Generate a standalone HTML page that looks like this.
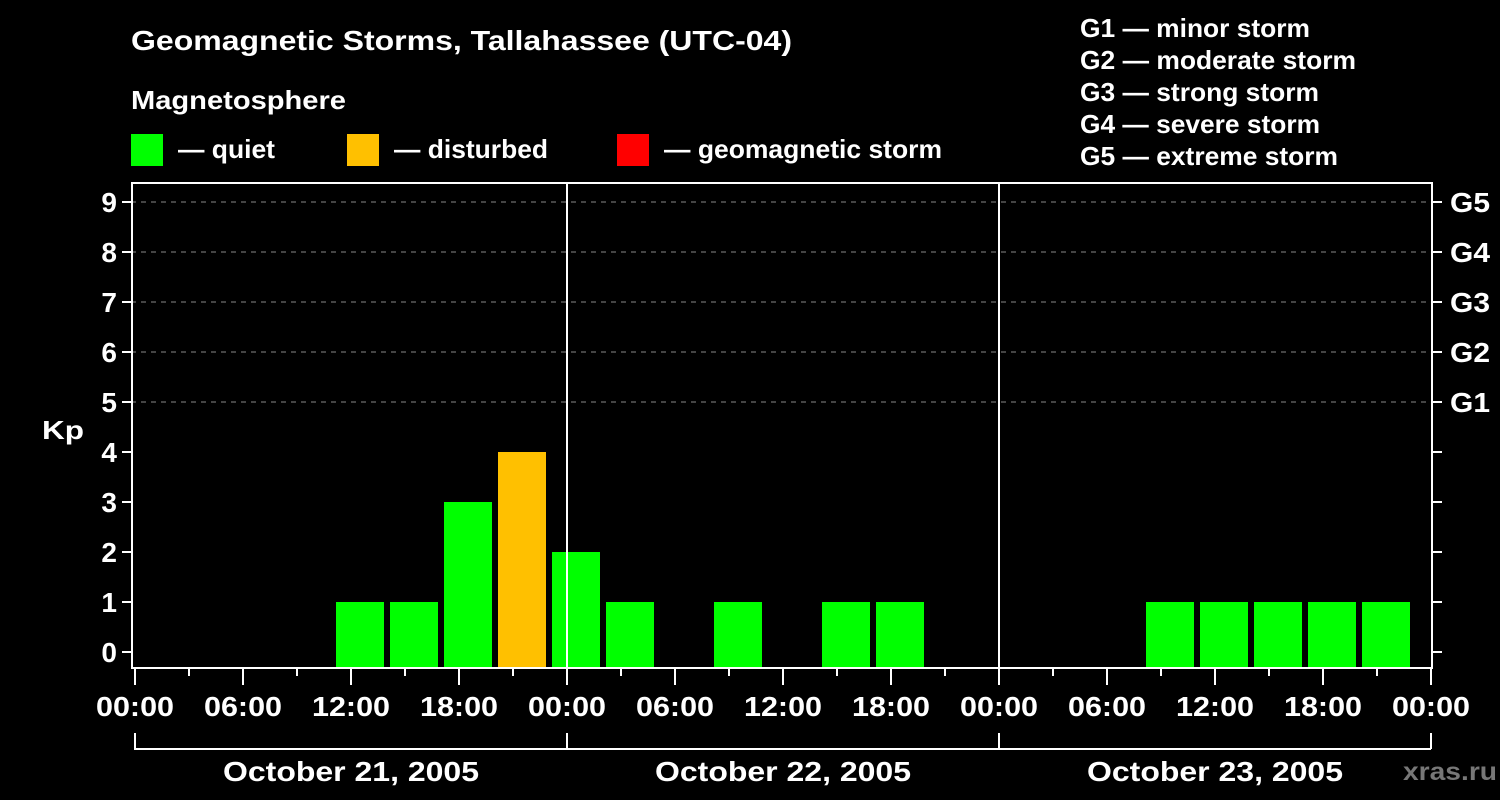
<!DOCTYPE html>
<html><head><style>body{margin:0;background:#000}</style></head><body>
<svg width="1500" height="800" xmlns="http://www.w3.org/2000/svg" style="display:block;font-family:'Liberation Sans',Arial,sans-serif;font-weight:bold" fill="#fff">
<rect width="1500" height="800" fill="#000"/>
<text x="131" y="50" font-size="28" textLength="661" lengthAdjust="spacingAndGlyphs">Geomagnetic Storms, Tallahassee (UTC-04)</text>
<text x="131" y="109" font-size="26" textLength="215" lengthAdjust="spacingAndGlyphs">Magnetosphere</text>
<rect x="131" y="134" width="32" height="32" fill="#00ff00"/>
<text x="178" y="158" font-size="26" textLength="97" lengthAdjust="spacingAndGlyphs">— quiet</text>
<rect x="347" y="134" width="32" height="32" fill="#ffc000"/>
<text x="394" y="158" font-size="26" textLength="154" lengthAdjust="spacingAndGlyphs">— disturbed</text>
<rect x="617" y="134" width="32" height="32" fill="#ff0000"/>
<text x="664" y="158" font-size="26" textLength="278" lengthAdjust="spacingAndGlyphs">— geomagnetic storm</text>
<g font-size="26">
<text x="1080" y="37" textLength="230" lengthAdjust="spacingAndGlyphs">G1 — minor storm</text>
<text x="1080" y="69" textLength="276" lengthAdjust="spacingAndGlyphs">G2 — moderate storm</text>
<text x="1080" y="101" textLength="239" lengthAdjust="spacingAndGlyphs">G3 — strong storm</text>
<text x="1080" y="133" textLength="240" lengthAdjust="spacingAndGlyphs">G4 — severe storm</text>
<text x="1080" y="165" textLength="258" lengthAdjust="spacingAndGlyphs">G5 — extreme storm</text>
</g>
<g stroke="#888" stroke-dasharray="5,5" stroke-width="1">
<line x1="131" x2="1433" y1="402" y2="402"/><line x1="131" x2="1433" y1="352" y2="352"/>
<line x1="131" x2="1433" y1="302" y2="302"/><line x1="131" x2="1433" y1="252" y2="252"/>
<line x1="131" x2="1433" y1="202" y2="202"/>
</g>
<g fill="#00ff00">
<rect x="336" y="602" width="48" height="66"/>
<rect x="390" y="602" width="48" height="66"/>
<rect x="444" y="502" width="48" height="166"/>
<rect x="498" y="452" width="48" height="216" fill="#ffc000"/>
<rect x="552" y="552" width="48" height="116"/>
<rect x="606" y="602" width="48" height="66"/>
<rect x="714" y="602" width="48" height="66"/>
<rect x="822" y="602" width="48" height="66"/>
<rect x="876" y="602" width="48" height="66"/>
<rect x="1146" y="602" width="48" height="66"/>
<rect x="1200" y="602" width="48" height="66"/>
<rect x="1254" y="602" width="48" height="66"/>
<rect x="1308" y="602" width="48" height="66"/>
<rect x="1362" y="602" width="48" height="66"/>
</g>
<g stroke="#fff" stroke-width="2" fill="none">
<rect x="132" y="183" width="1300" height="485"/>
<line x1="567" y1="183" x2="567" y2="668"/><line x1="999" y1="183" x2="999" y2="668"/>
<path d="M122 652h10M122 602h10M122 552h10M122 502h10M122 452h10M122 402h10M122 352h10M122 302h10M122 252h10M122 202h10"/>
<path d="M1432 652h10M1432 602h10M1432 552h10M1432 502h10M1432 452h10M1432 402h10M1432 352h10M1432 302h10M1432 252h10M1432 202h10"/>
<path d="M135 668v17M189 668v8M243 668v17M297 668v8M351 668v17M405 668v8M459 668v17M513 668v8M567 668v17M621 668v8M675 668v17M729 668v8M783 668v17M837 668v8M891 668v17M945 668v8M999 668v17M1053 668v8M1107 668v17M1161 668v8M1215 668v17M1269 668v8M1323 668v17M1377 668v8M1431 668v17"/>
<path d="M135 733v16H1431M567 733v16M999 733v16M1431 733v16"/>
</g>
<g font-size="28" text-anchor="end">
<text x="117" y="662">0</text><text x="117" y="612">1</text><text x="117" y="562">2</text><text x="117" y="512">3</text><text x="117" y="462">4</text><text x="117" y="412">5</text><text x="117" y="362">6</text><text x="117" y="312">7</text><text x="117" y="262">8</text><text x="117" y="212">9</text>
</g>
<text x="42" y="439" font-size="26" textLength="42" lengthAdjust="spacingAndGlyphs">Kp</text>
<g font-size="28">
<text x="1450" y="412" textLength="40" lengthAdjust="spacingAndGlyphs">G1</text><text x="1450" y="362" textLength="40" lengthAdjust="spacingAndGlyphs">G2</text><text x="1450" y="312" textLength="40" lengthAdjust="spacingAndGlyphs">G3</text><text x="1450" y="262" textLength="40" lengthAdjust="spacingAndGlyphs">G4</text><text x="1450" y="212" textLength="40" lengthAdjust="spacingAndGlyphs">G5</text>
</g>
<g font-size="28" text-anchor="middle">
<text x="135" y="716" textLength="78" lengthAdjust="spacingAndGlyphs">00:00</text><text x="243" y="716" textLength="78" lengthAdjust="spacingAndGlyphs">06:00</text><text x="351" y="716" textLength="78" lengthAdjust="spacingAndGlyphs">12:00</text><text x="459" y="716" textLength="78" lengthAdjust="spacingAndGlyphs">18:00</text>
<text x="567" y="716" textLength="78" lengthAdjust="spacingAndGlyphs">00:00</text><text x="675" y="716" textLength="78" lengthAdjust="spacingAndGlyphs">06:00</text><text x="783" y="716" textLength="78" lengthAdjust="spacingAndGlyphs">12:00</text><text x="891" y="716" textLength="78" lengthAdjust="spacingAndGlyphs">18:00</text>
<text x="999" y="716" textLength="78" lengthAdjust="spacingAndGlyphs">00:00</text><text x="1107" y="716" textLength="78" lengthAdjust="spacingAndGlyphs">06:00</text><text x="1215" y="716" textLength="78" lengthAdjust="spacingAndGlyphs">12:00</text><text x="1323" y="716" textLength="78" lengthAdjust="spacingAndGlyphs">18:00</text><text x="1431" y="716" textLength="78" lengthAdjust="spacingAndGlyphs">00:00</text>
<text x="351" y="781" textLength="256" lengthAdjust="spacingAndGlyphs">October 21, 2005</text>
<text x="783" y="781" textLength="256" lengthAdjust="spacingAndGlyphs">October 22, 2005</text>
<text x="1215" y="781" textLength="256" lengthAdjust="spacingAndGlyphs">October 23, 2005</text>
</g>
<text x="1403" y="780" font-size="25" fill="#777" textLength="94" lengthAdjust="spacingAndGlyphs">xras.ru</text>
</svg>
</body></html>
